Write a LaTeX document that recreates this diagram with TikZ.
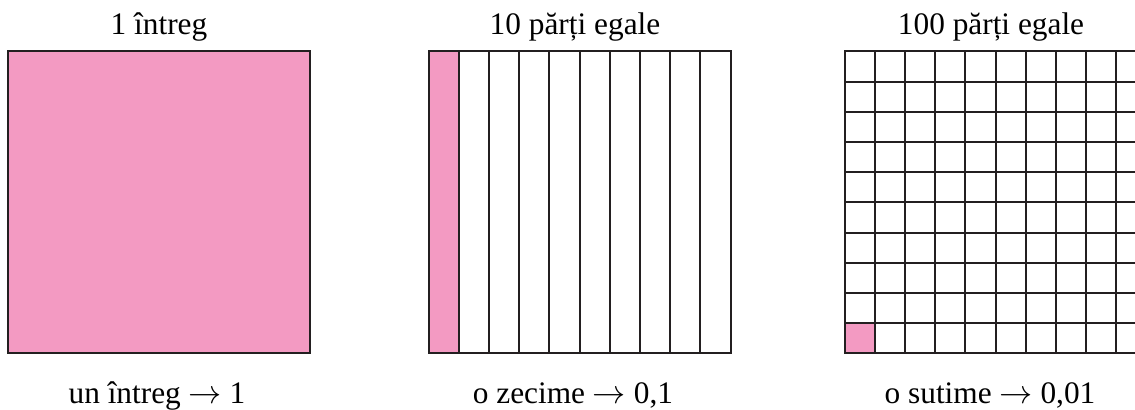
\documentclass[tikz,border=0pt]{standalone}
\usepackage{fontspec}
\setmainfont{Liberation Serif}
\definecolor{partpink}{HTML}{F39AC2}
\definecolor{gridline}{HTML}{231F20}
\newcommand{\sageata}{\ensuremath{\rightarrow}}
\tikzset{
  unitsq/.style={draw=gridline, line width=1.5pt},
  caption/.style={anchor=base, inner sep=0pt, font=\fontsize{23.5}{28}\selectfont},
}
\begin{document}
\begin{tikzpicture}[x=0.75pt,y=0.75pt]
\useasboundingbox (0,0) rectangle (1135,410);
\clip (0,0) rectangle (1135,410);
% un intreg
\draw[unitsq, fill=partpink] (8,56.5) rectangle (310,358.5);
% zecimi
\fill[partpink] (428.5,56.5) rectangle (458.7,358.5);
\foreach \i in {1,...,9} \draw[unitsq] ({428.5+30.2*\i},56.5) -- ({428.5+30.2*\i},358.5);
\draw[unitsq] (428.5,56.5) rectangle (730.5,358.5);
% sutimi
\fill[partpink] (844.5,56.5) rectangle (874.7,86.7);
\foreach \i in {1,...,9} {
  \draw[unitsq] ({844.5+30.2*\i},56.5) -- ({844.5+30.2*\i},358.5);
  \draw[unitsq] (844.5,{56.5+30.2*\i}) -- (1146.5,{56.5+30.2*\i});
}
\draw[unitsq] (844.5,56.5) rectangle (1146.5,358.5);
% etichete
\node[caption] (sus1) at (159,375) {1 întreg};
\node[caption] (sus2) at (575,375) {10 părți egale};
\node[caption] (sus3) at (991,375) {100 părți egale};
\node[caption] (jos1) at (157,6) {un întreg \sageata{} 1};
\node[caption] (jos2) at (573,6) {o zecime \sageata{} 0,1};
\node[caption] (jos3) at (990,6) {o sutime \sageata{} 0,01};
\end{tikzpicture}
\end{document}
